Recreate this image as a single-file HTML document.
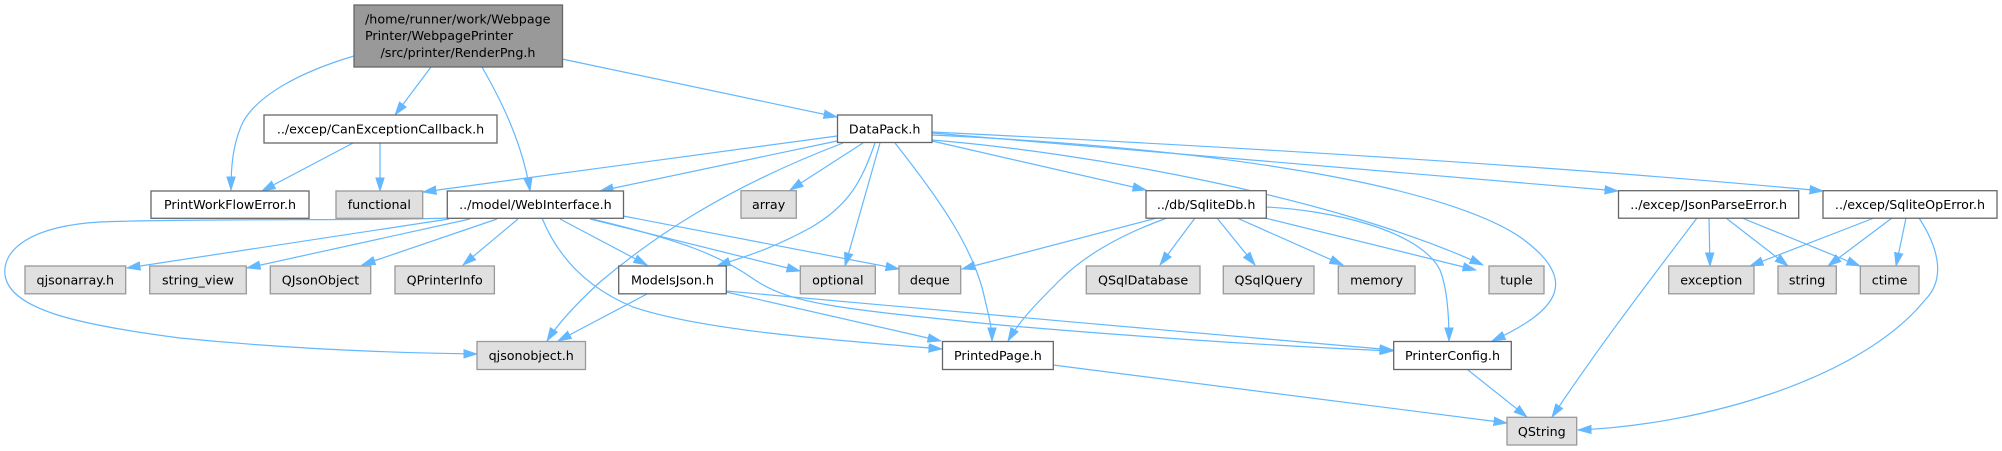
<!DOCTYPE html>
<html>
<head>
<meta charset="utf-8">
<style>
  html, body { margin:0; padding:0; background:#ffffff; }
  body { width:2002px; height:451px; overflow:hidden; }
  svg { display:block; }
  text { font-family: "DejaVu Sans", "Liberation Sans", sans-serif; font-size:12.7px; fill:#000; }
  .e { fill:none; stroke:#63b8ff; stroke-width:1.2; marker-end:url(#ah); }
  .w { fill:#ffffff; stroke:#666666; stroke-width:1.3; }
  .g { fill:#e0e0e0; stroke:#999999; stroke-width:1.3; }
  .r { fill:#999999; stroke:#666666; stroke-width:1.3; }
</style>
</head>
<body>
<svg width="2002" height="451" viewBox="0 0 2002 451" xmlns="http://www.w3.org/2000/svg">
  <defs>
    <marker id="ah" markerUnits="userSpaceOnUse" markerWidth="14" markerHeight="10" viewBox="0 0 14 10" refX="13.5" refY="5" orient="auto">
      <path d="M0,0.5 L14,5 L0,9.5 z" fill="#63b8ff" stroke="#63b8ff" stroke-width="0.5"/>
    </marker>
  </defs>

  <!-- edges -->
  <!-- root -->
  <path class="e" d="M354,56 C300,72 258,95 243,122 C232,145 231,170 231,190"/>
  <path class="e" d="M431,67 L395,115"/>
  <path class="e" d="M482,67 C498,95 522,140 530,191"/>
  <path class="e" d="M562,59 L837,117"/>
  <!-- CanExceptionCallback -->
  <path class="e" d="M353,143 L262,191"/>
  <path class="e" d="M380,143 L380,191"/>
  <!-- DataPack -->
  <path class="e" d="M837,136 L423,192"/>
  <path class="e" d="M837,141 L600,191"/>
  <path class="e" d="M843,143 C720,190 650,240 600,282 C575,305 557,325 547,341"/>
  <path class="e" d="M863,143 L790,190"/>
  <path class="e" d="M875,143 C862,180 850,205 810,228 C770,250 740,258 717,266"/>
  <path class="e" d="M880,143 L845,266"/>
  <path class="e" d="M895,143 C940,200 975,250 985,300 C990,320 992,330 992,341"/>
  <path class="e" d="M932,141 L1146,190"/>
  <path class="e" d="M932,140 C1080,152 1330,195 1483,265"/>
  <path class="e" d="M932,135 C1250,150 1450,190 1520,237 C1580,280 1560,310 1492,341"/>
  <path class="e" d="M932,133 L1618,191"/>
  <path class="e" d="M932,132 C1300,150 1600,170 1823,191"/>
  <!-- WebInterface -->
  <path class="e" d="M447,218 C380,221 200,218 100,222 C30,226 2,250 5,275 C10,310 80,325 180,338 C300,350 400,353 477,354"/>
  <path class="e" d="M449,219 L127,268"/>
  <path class="e" d="M470,219 L247,268"/>
  <path class="e" d="M497,219 L362,265"/>
  <path class="e" d="M518,219 L463,265"/>
  <path class="e" d="M542,218 C555,250 580,285 633,307 C700,330 830,340 942,349"/>
  <path class="e" d="M560,219 L647,265"/>
  <path class="e" d="M590,219 L800,271"/>
  <path class="e" d="M592,219 C680,240 720,255 755,280 C790,303 830,308 1000,325 C1200,342 1320,348 1393,351"/>
  <path class="e" d="M623,216 L899,269"/>
  <!-- ModelsJson -->
  <path class="e" d="M647,294 L558,341"/>
  <path class="e" d="M726,292 L941,341"/>
  <path class="e" d="M726,291 C900,305 1200,335 1393,350"/>
  <!-- SqliteDb -->
  <path class="e" d="M1157,218 L962,269"/>
  <path class="e" d="M1167,218 C1120,235 1085,255 1060,280 C1035,305 1020,320 1008,341"/>
  <path class="e" d="M1195,218 L1160,265"/>
  <path class="e" d="M1217,218 L1255,265"/>
  <path class="e" d="M1237,218 L1343,265"/>
  <path class="e" d="M1265,218 L1476,270"/>
  <path class="e" d="M1266,207 C1330,210 1420,230 1440,270 C1448,290 1449,320 1449,341"/>
  <!-- JsonParseError -->
  <path class="e" d="M1697,218 C1650,280 1600,345 1552,417"/>
  <path class="e" d="M1709,218 L1710,266"/>
  <path class="e" d="M1726,218 L1788,266"/>
  <path class="e" d="M1742,218 L1860,266"/>
  <!-- SqliteOpError -->
  <path class="e" d="M1874,218 L1750,266"/>
  <path class="e" d="M1892,218 L1828,266"/>
  <path class="e" d="M1906,218 L1896,266"/>
  <path class="e" d="M1919,218 C1940,250 1945,280 1925,300 C1860,380 1700,425 1578,430"/>
  <!-- PrintedPage / PrinterConfig -->
  <path class="e" d="M1053,365 L1507,423"/>
  <path class="e" d="M1468,370 L1527,417"/>

  <!-- nodes -->
  <rect class="r" x="354" y="5" width="208.5" height="62"/>
  <text x="365" y="23.5">/home/runner/work/Webpage</text>
  <text x="365" y="40">Printer/WebpagePrinter</text>
  <text x="458" y="57" text-anchor="middle">/src/printer/RenderPng.h</text>

  <rect class="w" x="264" y="115" width="233" height="28"/>
  <text x="380.5" y="133.5" text-anchor="middle">../excep/CanExceptionCallback.h</text>

  <rect class="w" x="837.5" y="115" width="94.5" height="27.5"/>
  <text x="884.7" y="133.3" text-anchor="middle">DataPack.h</text>

  <rect class="w" x="151" y="191" width="158" height="27.3"/>
  <text x="230" y="209.2" text-anchor="middle">PrintWorkFlowError.h</text>

  <rect class="g" x="336" y="191" width="86.7" height="27.3"/>
  <text x="379.3" y="209.2" text-anchor="middle">functional</text>

  <rect class="w" x="447.3" y="191" width="176.2" height="27.3"/>
  <text x="535.4" y="209.2" text-anchor="middle">../model/WebInterface.h</text>

  <rect class="g" x="741" y="190.7" width="55.3" height="27.5"/>
  <text x="768.6" y="209" text-anchor="middle">array</text>

  <rect class="w" x="1146" y="190.7" width="120.3" height="27.5"/>
  <text x="1206.1" y="209" text-anchor="middle">../db/SqliteDb.h</text>

  <rect class="w" x="1618.5" y="190.7" width="180.2" height="27.5"/>
  <text x="1708.6" y="209" text-anchor="middle">../excep/JsonParseError.h</text>

  <rect class="w" x="1823" y="190.7" width="174" height="27.5"/>
  <text x="1910" y="209" text-anchor="middle">../excep/SqliteOpError.h</text>

  <rect class="g" x="25" y="266" width="100.7" height="27.8"/>
  <text x="75.3" y="284.5" text-anchor="middle">qjsonarray.h</text>

  <rect class="g" x="149.7" y="266" width="96.6" height="27.8"/>
  <text x="198" y="284.5" text-anchor="middle">string_view</text>

  <rect class="g" x="270.3" y="266" width="100.4" height="27.8"/>
  <text x="320.5" y="284.5" text-anchor="middle">QJsonObject</text>

  <rect class="g" x="395" y="266" width="99.4" height="27.8"/>
  <text x="444.7" y="284.5" text-anchor="middle">QPrinterInfo</text>

  <rect class="w" x="618.7" y="266" width="107.6" height="27.8"/>
  <text x="672.5" y="284.5" text-anchor="middle">ModelsJson.h</text>

  <rect class="g" x="800.3" y="266" width="75" height="27.8"/>
  <text x="837.8" y="284.5" text-anchor="middle">optional</text>

  <rect class="g" x="899" y="266" width="61.7" height="27.8"/>
  <text x="929.8" y="284.5" text-anchor="middle">deque</text>

  <rect class="g" x="1086.3" y="266" width="113.7" height="27.8"/>
  <text x="1143.1" y="284.5" text-anchor="middle">QSqlDatabase</text>

  <rect class="g" x="1223.3" y="266" width="90.7" height="27.8"/>
  <text x="1268.6" y="284.5" text-anchor="middle">QSqlQuery</text>

  <rect class="g" x="1338.3" y="266" width="76.7" height="27.8"/>
  <text x="1376.6" y="284.5" text-anchor="middle">memory</text>

  <rect class="g" x="1489" y="266" width="55" height="27.8"/>
  <text x="1516.5" y="284.5" text-anchor="middle">tuple</text>

  <rect class="g" x="1668.7" y="266" width="85.3" height="27.8"/>
  <text x="1711.3" y="284.5" text-anchor="middle">exception</text>

  <rect class="g" x="1778" y="266" width="58.3" height="27.8"/>
  <text x="1807.1" y="284.5" text-anchor="middle">string</text>

  <rect class="g" x="1860.3" y="266" width="58.7" height="27.8"/>
  <text x="1889.6" y="284.5" text-anchor="middle">ctime</text>

  <rect class="g" x="477" y="341.5" width="108.5" height="28"/>
  <text x="531.2" y="360.2" text-anchor="middle">qjsonobject.h</text>

  <rect class="w" x="942.5" y="341.5" width="110.8" height="28"/>
  <text x="997.9" y="360.2" text-anchor="middle">PrintedPage.h</text>

  <rect class="w" x="1393.7" y="341.5" width="117.6" height="28"/>
  <text x="1452.5" y="360.2" text-anchor="middle">PrinterConfig.h</text>

  <rect class="g" x="1507" y="417.3" width="69.7" height="27.7"/>
  <text x="1541.8" y="435.8" text-anchor="middle">QString</text>
</svg>
</body>
</html>
